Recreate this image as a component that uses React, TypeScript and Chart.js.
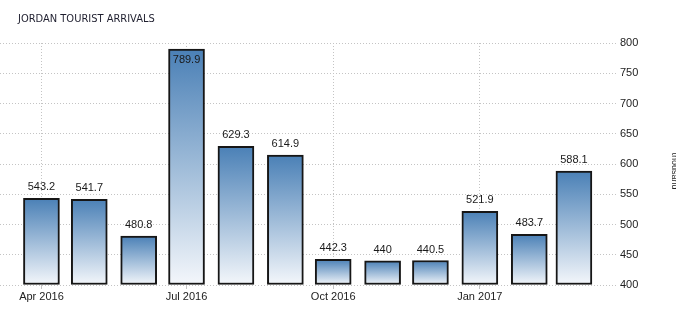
import React, { useEffect, useRef } from "react";
import { Chart, registerables } from "chart.js";

Chart.register(...registerables);

const TITLE = "JORDAN TOURIST ARRIVALS";
const UNIT = "thousand";
const MONTHS = [
  "2016-04", "2016-05", "2016-06", "2016-07", "2016-08", "2016-09",
  "2016-10", "2016-11", "2016-12", "2017-01", "2017-02", "2017-03",
];
const ARRIVALS = [543.2, 541.7, 480.8, 789.9, 629.3, 614.9, 442.3, 440, 440.5, 521.9, 483.7, 588.1];
const TICK_MONTHS = ["2016-04", "2016-07", "2016-10", "2017-01"];
const TICK_LABELS = ["Apr 2016", "Jul 2016", "Oct 2016", "Jan 2017"];
const Y_TICKS = [400, 450, 500, 550, 600, 650, 700, 750, 800];
const Y_MIN = Y_TICKS[0];
const Y_MAX = Y_TICKS[Y_TICKS.length - 1];

const ORIGIN = Date.UTC(2016, 3, 1);
const dayOf = (m: string) => {
  const [y, mo] = m.split("-").map(Number);
  return (Date.UTC(y, mo - 1, 1) - ORIGIN) / 86400000;
};

const FONT = "'Liberation Sans', Arial, sans-serif";
const TEXT_COLOR = "#222";
const GRID_COLOR = "#c4c4c4";

export default function App() {
  const ref = useRef<HTMLCanvasElement | null>(null);

  useEffect(() => {
    if (!ref.current) return;

    const labelPlugin = {
      id: "valueLabels",
      afterDatasetsDraw(chart: any) {
        const ctx = chart.ctx;
        const meta = chart.getDatasetMeta(0);
        ctx.save();
        ctx.font = `11px ${FONT}`;
        ctx.fillStyle = "#1a1a1a";
        ctx.textAlign = "center";
        ctx.textBaseline = "middle";
        meta.data.forEach((bar: any, i: number) => {
          const top = bar.y;
          const inside = top - 20 < chart.chartArea.top;
          ctx.fillText(String(ARRIVALS[i]), bar.x, inside ? top + 11 : top - 11);
        });
        ctx.restore();
      },
    };

    const textPlugin = {
      id: "extraText",
      afterDraw(chart: any) {
        const ctx = chart.ctx;
        ctx.save();
        ctx.font = `11px 'DejaVu Sans Condensed', 'DejaVu Sans', sans-serif`;
        ctx.fillStyle = "#1e1e2e";
        ctx.textAlign = "left";
        ctx.textBaseline = "alphabetic";
        ctx.fillText(TITLE, 18, 22);
        ctx.translate(674, 171);
        ctx.rotate(Math.PI / 2);
        ctx.font = `9px ${FONT}`;
        ctx.textAlign = "center";
        ctx.textBaseline = "middle";
        ctx.fillStyle = "#222";
        ctx.fillText(UNIT, 0, 0);
        ctx.restore();
      },
    };

    const chart = new Chart(ref.current, {
      type: "bar",
      data: {
        datasets: [
          {
            data: MONTHS.map((m, i) => ({ x: dayOf(m), y: ARRIVALS[i] })),
            base: Y_MIN,
            barThickness: 36,
            borderWidth: 2,
            borderColor: "#161616",
            borderSkipped: false,
            clip: false,
            backgroundColor: (c: any) => {
              const chart = c.chart;
              if (!chart.chartArea || c.type !== "data") return "#4a80b6";
              const ys = chart.scales.y;
              const top = ys.getPixelForValue(c.parsed.y);
              const bottom = ys.getPixelForValue(Y_MIN);
              const g = chart.ctx.createLinearGradient(0, top, 0, bottom);
              g.addColorStop(0, "#4a80b6");
              g.addColorStop(1, "#f4f7fb");
              return g;
            },
          },
        ],
      },
      options: {
        animation: false,
        responsive: true,
        maintainAspectRatio: false,
        layout: { padding: { top: 43, left: 0, right: 0, bottom: 0 } },
        plugins: {
          legend: { display: false },
          tooltip: { enabled: false },
          title: { display: false },
        },
        scales: {
          x: {
            type: "linear",
            offset: false,
            min: -26,
            max: 360.4,
            afterBuildTicks: (s: any) => {
              s.ticks = TICK_MONTHS.map((m) => ({ value: dayOf(m) }));
            },
            afterFit: (s: any) => {
              s.height = 30;
            },
            ticks: {
              autoSkip: false,
              maxRotation: 0,
              padding: 1,
              color: TEXT_COLOR,
              font: { family: FONT, size: 11 },
              callback: (v: any) => {
                const idx = TICK_MONTHS.findIndex((m) => dayOf(m) === v);
                return idx >= 0 ? TICK_LABELS[idx] : "";
              },
            },
            grid: {
              offset: false,
              color: GRID_COLOR,
              drawTicks: true,
              tickLength: 4,
              tickColor: GRID_COLOR,
              tickBorderDash: [],
            },
            border: { display: false, dash: [1, 2] },
          },
          y: {
            position: "right",
            min: Y_MIN,
            max: Y_MAX,
            afterBuildTicks: (s: any) => {
              s.ticks = Y_TICKS.map((v) => ({ value: v }));
            },
            afterFit: (s: any) => {
              s.width = 60;
            },
            ticks: {
              padding: 4,
              color: TEXT_COLOR,
              font: { family: FONT, size: 11 },
            },
            grid: {
              color: GRID_COLOR,
              drawTicks: false,
            },
            border: { display: false, dash: [1, 2] },
          },
        },
      },
      plugins: [labelPlugin, textPlugin],
    } as any);

    return () => chart.destroy();
  }, []);

  return (
    <div style={{ position: "absolute", left: 0, top: 0, width: 676, height: 315 }}>
      <canvas ref={ref} />
    </div>
  );
}
